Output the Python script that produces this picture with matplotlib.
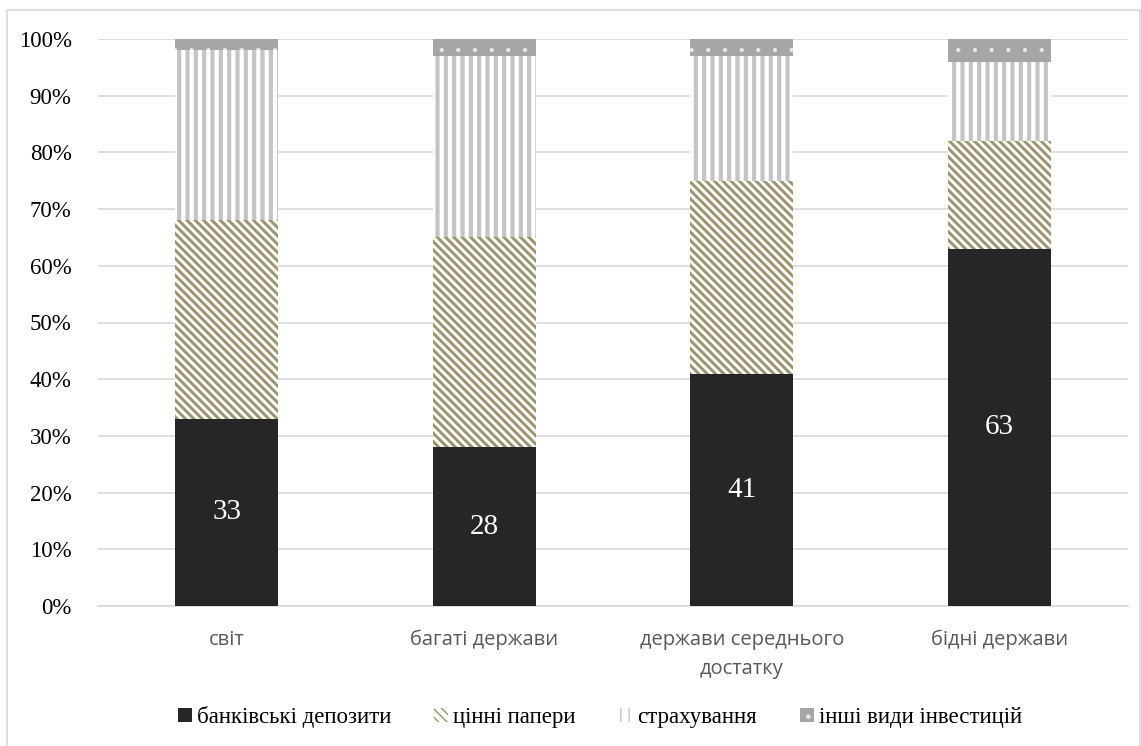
import matplotlib.pyplot as plt
import matplotlib as mpl
from matplotlib.ticker import PercentFormatter
import numpy as np

categories = ['світ', 'багаті держави', 'держави середнього\nдостатку', 'бідні держави']
deposits = [33, 28, 41, 63]
securities = [35, 37, 34, 19]
insurance = [30, 32, 22, 14]
other = [2, 3, 3, 4]
series_names = ['банківські депозити', 'цінні папери', 'страхування', 'інші види інвестицій']

fig = plt.figure(figsize=(11.41, 7.46), dpi=100)
ax = fig.add_axes([98 / 1141, 1 - 606 / 746, (1128 - 98) / 1141, (606 - 39) / 746])

x = np.arange(len(categories))
w = 0.4
d = np.array(deposits)
s = np.array(securities)
ins = np.array(insurance)
o = np.array(other)

b1 = ax.bar(x, d, w, color='#262626', linewidth=0, label=series_names[0], zorder=3)
with mpl.rc_context({'hatch.linewidth': 2.1}):
    b2 = ax.bar(x, s, w, bottom=d, color='white', edgecolor='#9c9470', hatch='\\\\\\\\',
                linewidth=0, label=series_names[1], zorder=3)
with mpl.rc_context({'hatch.linewidth': 3.0}):
    b3 = ax.bar(x, ins, w, bottom=d + s, color='white', edgecolor='#c4c4c4', hatch='||',
                linewidth=0, label=series_names[2], zorder=3)
with mpl.rc_context({'hatch.linewidth': 0.6}):
    b4 = ax.bar(x, o, w, bottom=d + s + ins, color='#a6a6a6', edgecolor='#e8e8e8', hatch='.',
                linewidth=0, label=series_names[3], zorder=3)

for xi, v in zip(x, deposits):
    ax.text(xi, v / 2, str(v), ha='center', va='center', color='white',
            fontsize=21, family='Liberation Serif', zorder=4)

ax.set_ylim(0, 100)
ax.set_xlim(-0.5, len(categories) - 0.5)
ax.set_yticks(np.arange(0, 101, 10))
ax.yaxis.set_major_formatter(PercentFormatter(decimals=0))
ax.grid(axis='y', color='#d9d9d9', linewidth=1.2, zorder=0)
for sp in ['top', 'right', 'left']:
    ax.spines[sp].set_visible(False)
ax.spines['bottom'].set_color('#d9d9d9')
ax.spines['bottom'].set_linewidth(1.2)
ax.tick_params(axis='both', length=0)
ax.tick_params(axis='y', pad=19)
ax.tick_params(axis='x', pad=17)
for lab in ax.get_yticklabels():
    lab.set_family('Liberation Serif')
    lab.set_fontsize(16.5)
ax.set_xticks(x)
ax.set_xticklabels(categories, fontsize=14.5, family='Open Sans', color='#595959',
                   linespacing=1.6)

leg = fig.legend(handles=[b1, b2, b3, b4], loc='center', bbox_to_anchor=(600 / 1141, 1 - 717 / 746),
                 ncol=4, frameon=False, prop={'family': 'Liberation Serif', 'size': 16.5},
                 handlelength=0.6, handleheight=0.6, handletextpad=0.2, columnspacing=1.9)

# outer border
fig.patches.append(plt.Rectangle((7 / 1141, -0.01), (1140 - 7) / 1141, 1 - 10 / 746 + 0.01,
                                 transform=fig.transFigure, fill=False,
                                 edgecolor='#d9d9d9', linewidth=1.2))

fig.savefig('out.png', dpi=100)
